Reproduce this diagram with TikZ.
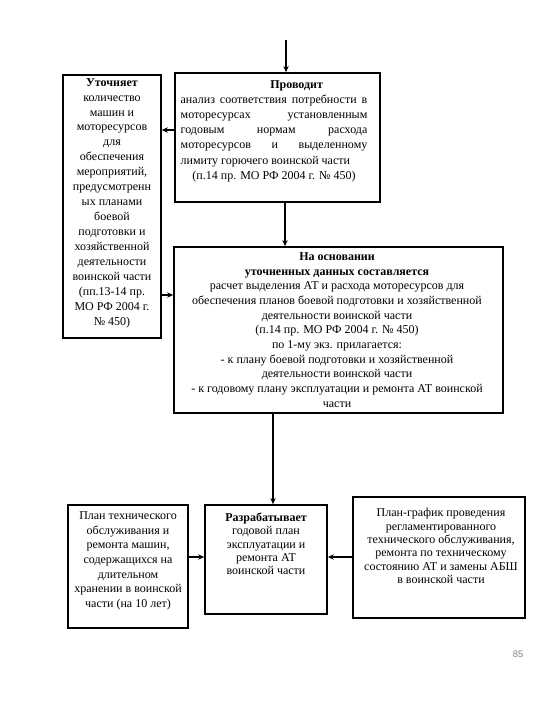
\documentclass[tikz,border=0pt]{standalone}
\usepackage{fontspec}
\setmainfont{Liberation Serif}
\setsansfont{Liberation Sans}
\usetikzlibrary{arrows.meta,fit}
\tikzset{
  box/.style={draw, line width=1.3pt, inner sep=0pt},
  txt/.style={inner sep=0pt, align=center, font=\fontsize{9}{11.2}\selectfont},
  arr/.style={line width=0.9pt, -{Stealth[length=4.5pt,width=4pt]}},
}
\begin{document}
\begin{tikzpicture}[x=0.75pt,y=-0.75pt]
\useasboundingbox (0,0) rectangle (540,720);
% boxes
\node[box, fit={(63,75) (161,338)}] (utoch) {};
\node[box, fit={(175,73) (380,202)}] (prov) {};
\node[box, fit={(174,247) (503,413)}] (main) {};
\node[box, fit={(68,505) (188,628)}] (plan) {};
\node[box, fit={(205,505) (327,614)}] (razr) {};
\node[box, fit={(353,497) (525,618)}] (graf) {};
% texts
\node[txt] (tutoch) at (112,203) {\textbf{Уточняет}\\количество\\машин и\\моторесурсов\\для\\обеспечения\\мероприятий,\\предусмотренн\\ых планами\\боевой\\подготовки и\\хозяйственной\\деятельности\\воинской части\\(пп.13-14 пр.\\МО РФ 2004 г.\\№ 450)};
\node[inner sep=0pt, font=\fontsize{9}{11.4}\selectfont] (tprov) at (274,131) {\parbox{140pt}{%
{\centering\hspace*{34pt}\textbf{Проводит}\par}%
анализ соответствия потребности в\linebreak
моторесурсах установленным\linebreak
годовым нормам расхода\linebreak
моторесурсов и выделенному\linebreak
лимиту горючего воинской части\par
{\centering (п.14 пр. МО РФ 2004 г. № 450)\par}}};
\node[txt, font=\fontsize{9}{11}\selectfont] (tmain) at (337,330) {\textbf{На основании}\\\textbf{уточненных данных составляется}\\расчет выделения АТ и расхода моторесурсов для\\обеспечения планов боевой подготовки и хозяйственной\\деятельности воинской части\\(п.14 пр. МО РФ 2004 г. № 450)\\по 1-му экз. прилагается:\\- к плану боевой подготовки и хозяйственной\\деятельности воинской части\\- к годовому плану эксплуатации и ремонта АТ воинской\\части};
\node[txt, font=\fontsize{9}{11}\selectfont] (tplan) at (128,561) {План технического\\обслуживания и\\ремонта машин,\\содержащихся на\\длительном\\хранении в воинской\\части (на 10 лет)};
\node[txt, font=\fontsize{9}{10}\selectfont] (trazr) at (266,544) {\textbf{Разрабатывает}\\годовой план\\эксплуатации и\\ремонта АТ\\воинской части};
\node[txt, font=\fontsize{9}{10}\selectfont] (tgraf) at (441,546) {План-график проведения\\регламентированного\\технического обслуживания,\\ремонта по техническому\\состоянию АТ и замены АБШ\\в воинской части};
\node[inner sep=0pt, font=\sffamily\fontsize{7}{8}\selectfont, text=gray] (pg) at (518,654) {85};
% connectors
\coordinate (start) at (286,40);
\draw[arr] (start) -- (start |- prov.north);
\draw[arr] (prov.west |- 0,130) -- (utoch.east |- 0,130);
\draw[arr] (prov.south -| 285,0) -- (main.north -| 285,0);
\draw[arr] (utoch.east |- 0,295) -- (main.west |- 0,295);
\draw[arr] (main.south -| 273,0) -- (razr.north -| 273,0);
\draw[arr] (plan.east |- 0,557) -- (razr.west |- 0,557);
\draw[arr] (graf.west |- 0,557) -- (razr.east |- 0,557);
\end{tikzpicture}
\end{document}
